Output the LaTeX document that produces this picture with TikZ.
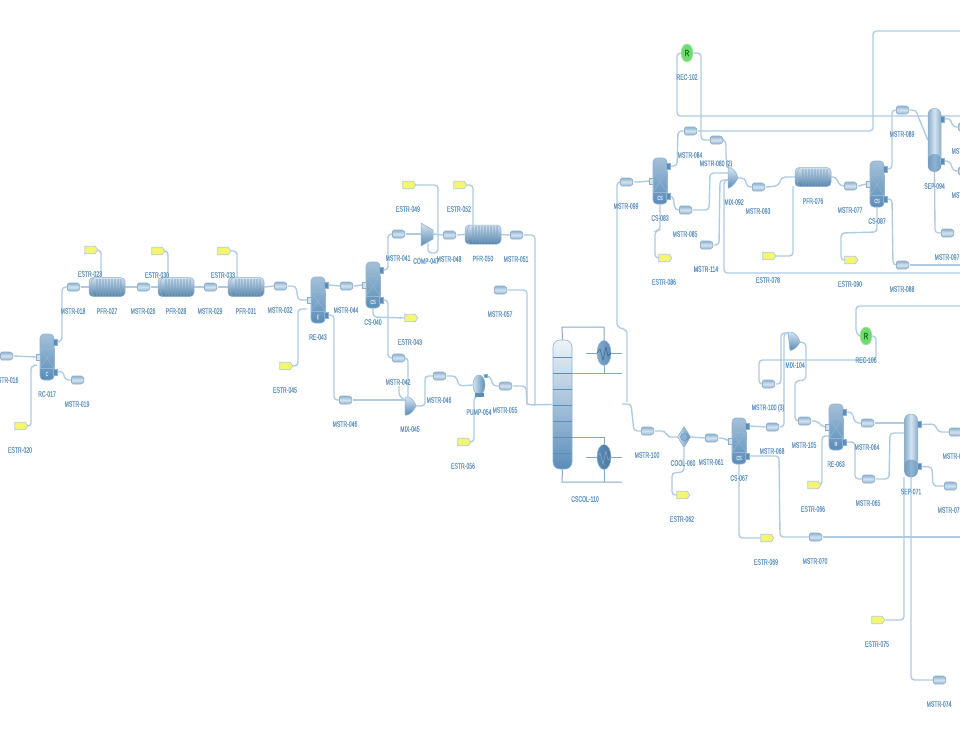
\documentclass[tikz,border=0pt]{standalone}
\usepackage{fontspec}
\setmainfont[FakeStretch=0.64,FakeBold=0.12]{Liberation Sans}
\usetikzlibrary{shapes.geometric,shapes.symbols}
\definecolor{pipec}{HTML}{AFCBE2}
\definecolor{lblc}{HTML}{6396C2}
\definecolor{vdark}{HTML}{5A8DB9}
\definecolor{vlight}{HTML}{D5E3EF}
\definecolor{vedge}{HTML}{8FB2CF}
\definecolor{recg}{HTML}{70DA70}
\definecolor{yell}{HTML}{F5F66E}
\pgfdeclarelayer{pipes}
\pgfdeclarelayer{paper}
\pgfsetlayers{paper,pipes,main}
\tikzset{
  pipe/.style={draw=pipec,line width=1.35pt,rounded corners=3.5pt},
  lbl/.style={text=lblc,font=\fontsize{8}{8}\selectfont,inner sep=0pt},
  micon/.style={signal,signal to=east,signal pointer angle=130,draw=vedge,line width=.7pt,top color=vedge,bottom color=vedge,middle color=vlight,minimum width=13pt,minimum height=8pt,inner sep=0pt,rounded corners=1.5pt},
  eicon/.style={signal,signal to=east,signal pointer angle=110,draw=pipec,line width=.7pt,fill=yell,minimum width=13pt,minimum height=7.5pt,inner sep=0pt},
  vessel/.style={draw=vedge,line width=.6pt,rounded corners=4pt,top color=vedge!70!vlight,bottom color=vdark,inner sep=0pt},
  portbox/.style={draw=vedge,line width=.4pt,fill=vdark,minimum width=4pt,minimum height=6pt,inner sep=0pt},
  inbox/.style={draw=vdark!70!white,line width=.4pt,fill=vlight,minimum width=4pt,minimum height=6pt,inner sep=0pt},
  pfrbody/.style={draw=vedge,line width=.5pt,rounded corners=4pt,top color=vlight,bottom color=vdark!90!black,inner sep=0pt},
  eqband/.style={draw=vdark!65!white,line width=.5pt},
  tray/.style={draw=vdark,line width=1pt},
  hx/.style={ellipse,draw=vedge,line width=.5pt,left color=vdark!75!white,right color=vdark,minimum width=14pt,minimum height=25pt,inner sep=0pt},
  hxline/.style={draw=vdark!75!white,line width=1pt},
  recy/.style={ellipse,fill=recg,draw=recg!60!white,line width=.6pt,minimum width=12pt,minimum height=18pt,inner sep=0pt,text=green!40!black,font=\fontsize{9}{9}\selectfont},
  eqshape/.style={draw=vedge,line width=.5pt,top color=vlight,bottom color=vdark}
}
\newcommand\mstream[4]{\node[micon] (#1) at (#2,#3) {};\node[lbl] (#1t) at (#2,#3+24) {#4};}
\newcommand\estream[4]{\node[eicon] (#1) at (#2,#3) {};\node[lbl] (#1t) at (#2,#3+24) {#4};}
\newcommand\reactorunit[5]{%
  \node[vessel,minimum width=14pt,minimum height=46pt] (#1) at (#2,#3) {};
  \draw[eqband] ({#2-7},{#3-9}) rectangle ({#2+7},{#3+11});
  \draw[eqband] ({#2-7},{#3-9}) -- ({#2+7},{#3+11}) ({#2-7},{#3+11}) -- ({#2+7},{#3-9});
  \node[text=vlight,font=\fontsize{6}{6}\selectfont,inner sep=0pt] (#1c) at (#2,{#3+17}) {#4};
  \node[inbox] (#1i) at ({#2-8.5},#3) {};
  \node[portbox] (#1a) at ({#2+8.5},{#3-15}) {};
  \node[portbox] (#1b) at ({#2+8.5},{#3+15}) {};
  \node[lbl] (#1t) at (#2,{#3+37}) {#5};
}
\newcommand\pfrunit[5]{%
  \node[pfrbody,minimum width={2*#5*1pt},minimum height=19pt] (#1) at (#2,#3) {};
  \foreach \qk in {-11,-9.5,...,15} {\draw[vdark!80!white,line width=.35pt,opacity=.45] ({#2+\qk},{#3-8.5}) -- ({#2+\qk},{#3+8.5});}
  \draw[vedge,line width=.5pt] ({#2-13},{#3-9}) arc[start angle=90,end angle=270,x radius=3,y radius=-9];
  \node[lbl] (#1t) at (#2,{#3+24}) {#4};
}
\newcommand\sepunit[4]{%
  \node[draw=vedge,line width=.5pt,rounded corners=6pt,left color=vdark!70!white,right color=vdark!70!white,middle color=vlight,minimum width=13pt,minimum height=63pt,inner sep=0pt] (#1) at (#2,#3) {};
  \fill[vdark,opacity=.55,rounded corners=6pt] ({#2-6.5},{#3+14}) rectangle ({#2+6.5},{#3+31.5});
  \node[portbox] (#1a) at ({#2+8},{#3-21}) {};
  \node[portbox] (#1b) at ({#2+8},{#3+21}) {};
  \node[lbl] (#1t) at (#2,{#3+46}) {#4};
}
\begin{document}
\begin{tikzpicture}[x=1pt,y=-1pt]
\useasboundingbox (0,0) rectangle (960,750);
\begin{pgfonlayer}{paper}
\fill[white] (0,0) rectangle (960,750);
\end{pgfonlayer}
\clip (0,0) rectangle (960,750);
\mstream{m016}{6}{356}{MSTR-016}
\reactorunit{rc}{47}{357}{C}{RC-017}
\mstream{m019}{77}{380}{MSTR-019}
\estream{e020}{20}{426}{ESTR-020}
\mstream{m018}{73}{287}{MSTR-018}
\pfrunit{pfa}{107}{287}{PFR-027}{18}
\estream{e023}{90}{250}{ESTR-023}
\mstream{m026}{143}{287}{MSTR-026}
\pfrunit{pfb}{176}{287}{PFR-028}{18}
\estream{e030}{157}{251}{ESTR-030}
\mstream{m029}{210}{287}{MSTR-029}
\pfrunit{pfc}{246}{287}{PFR-031}{18}
\estream{e033}{223}{251}{ESTR-033}
\mstream{m032}{280}{286}{MSTR-032}
\reactorunit{re}{318}{300}{E}{RE-043}
\estream{e045}{285}{366}{ESTR-045}
\mstream{m044}{346}{286}{MSTR-044}
\reactorunit{csa}{373}{285}{CS}{CS-040}
\estream{e043}{410}{318}{ESTR-043}
\mstream{m041}{398}{234}{MSTR-041}
\draw[eqshape] (421,223) -- (433,230) -- (433,239) -- (421,246) -- cycle;
\coordinate (compin) at (421,234);
\coordinate (compout) at (433,234);
\coordinate (compbot) at (428,243);
\node[lbl] (compt) at (426,261) {COMP-047};
\mstream{m048}{449}{235}{MSTR-048}
\estream{e049}{408}{185}{ESTR-049}
\estream{e052}{459}{185}{ESTR-052}
\pfrunit{pfd}{483}{234.5}{PFR-050}{18}
\mstream{m051}{516}{235}{MSTR-051}
\mstream{m057}{500}{290}{MSTR-057}
\mstream{m042}{398}{358}{MSTR-042}
\draw[eqshape] (405,397) -- (409,397) .. controls (413,399) and (415,403) .. (416,406) .. controls (414,410) and (411,414) .. (407,415) -- (405,415) -- cycle;
\coordinate (mixain) at (405,400);
\coordinate (mixatop) at (408,397);
\coordinate (mixaout) at (416,406);
\node[lbl] (mixat) at (410,429) {MIX-045};
\mstream{m046a}{345}{400}{MSTR-046}
\mstream{m046b}{439}{376}{MSTR-046}
\node[ellipse,draw=vedge,line width=.5pt,left color=vlight,right color=vdark,minimum width=12pt,minimum height=20pt,inner sep=0pt] (pump) at (479,385) {};
\fill[vdark] (475,393) rectangle (484,397);
\node[portbox,minimum width=3pt,minimum height=3pt] (pumpo) at (486,376) {};
\node[lbl] (pumpt) at (479,412) {PUMP-054};
\mstream{m055}{505}{386}{MSTR-055}
\estream{e056}{463}{442}{ESTR-056}
\node[draw=vedge,line width=.6pt,rounded corners=7pt,top color=vlight!40!white,bottom color=vdark,minimum width=19pt,minimum height=129pt,inner sep=0pt] (col) at (562.5,404.5) {};
\foreach \qy in {357,373,389,405,421,437,453} {\draw[tray] (553,\qy) -- (572,\qy);}
\node[lbl] (colt) at (585,499) {CSCOL-110};
\node[hx] (cond) at (604,353) {};
\draw[vdark!60!black,line width=.4pt] (597,353) -- (600,349) -- (603,360) -- (606,347) -- (608,356) -- (611,353);
\node[hx,left color=vdark,right color=vdark!85!black] (reboil) at (604,457) {};
\draw[vedge,line width=.4pt] (597,457) -- (600,453) -- (603,464) -- (606,451) -- (608,460) -- (611,457);
\coordinate (tl1) at (622,373);
\coordinate (c1) at (586,353);
\coordinate (c2) at (622,353);
\coordinate (r1) at (586,457);
\coordinate (r2) at (622,457);
\coordinate (r3) at (622,482);
\mstream{m099}{626}{182}{MSTR-099}
\reactorunit{csb}{660}{181}{CS}{CS-083}
\mstream{m084}{690}{131}{MSTR-084}
\mstream{m085}{685}{210}{MSTR-085}
\estream{e086}{664}{258}{ESTR-086}
\node[recy] (recb) at (687,53) {R};
\node[lbl] (recbt) at (687,77) {REC-102};
\mstream{m080}{716}{140}{MSTR-080 (2)}
\draw[eqshape] (728,168) -- (731,168) .. controls (735,170) and (737,174) .. (738,178) .. controls (736,182) and (733,186) .. (729,188) -- (728,188) -- cycle;
\coordinate (mixbt) at (729,168);
\coordinate (mixbi) at (728,173);
\coordinate (mixbj) at (728,180);
\coordinate (mixbo) at (738,178);
\node[lbl] (mixbl) at (734,202) {MIX-092};
\mstream{m093}{758}{187}{MSTR-093}
\mstream{m114}{706}{245}{MSTR-114}
\pfrunit{pfe}{813}{177}{PFR-076}{18}
\mstream{m077}{850}{186}{MSTR-077}
\estream{e078}{768}{256}{ESTR-078}
\reactorunit{csc}{877}{184}{CS}{CS-087}
\estream{e090}{850}{260}{ESTR-090}
\mstream{m088}{902}{265}{MSTR-088}
\mstream{m089}{902}{110}{MSTR-089}
\sepunit{sepa}{934.5}{140}{SEP-094}
\mstream{m097}{947}{233}{MSTR-097}
\mstream{m095}{964}{127}{MSTR-095}
\mstream{m096}{964}{171}{MSTR-096}
\coordinate (redge1) at (960,31);
\coordinate (redge2) at (960,116);
\coordinate (redge3) at (960,273);
\mstream{m100}{647}{431}{MSTR-100}
\node[diamond,draw=vedge,line width=.5pt,left color=vlight,right color=vdark,minimum width=13pt,minimum height=21pt,inner sep=0pt,aspect=.6] (cool) at (684,437) {};
\node[circle,draw=vdark,line width=.4pt,fill=vedge,minimum size=7pt,inner sep=0pt] (coolc) at (684,437) {};
\node[lbl] (coolt) at (683,463) {COOL-060};
\mstream{m061}{711}{438}{MSTR-061}
\estream{e062}{682}{495}{ESTR-062}
\reactorunit{csd}{739}{441}{CS}{CS-067}
\mstream{m068}{772}{427}{MSTR-068}
\mstream{m1003}{768}{384}{MSTR-100 (3)}
\estream{e069}{766}{538}{ESTR-069}
\mstream{m070}{815}{537}{MSTR-070}
\draw[eqshape] (788,332) -- (792,332) .. controls (796,334) and (799,338) .. (800,342) .. controls (798,346) and (795,349) .. (792,350) -- (790,350) .. controls (789,345) and (789,338) .. (788,332) -- cycle;
\coordinate (mixci) at (788,333);
\coordinate (mixco) at (800,342);
\node[lbl] (mixct) at (795,365) {MIX-104};
\node[recy] (recc) at (866,336) {R};
\node[lbl] (recct) at (866,360) {REC-106};
\mstream{m105}{804}{421}{MSTR-105}
\reactorunit{red}{836}{427}{R}{RE-063}
\estream{e066}{813}{485}{ESTR-066}
\mstream{m064}{867}{423}{MSTR-064}
\mstream{m065}{868}{479}{MSTR-065}
\sepunit{sepb}{911}{445.5}{SEP-071}
\mstream{m072}{955}{432}{MSTR-072}
\mstream{m073}{950}{486}{MSTR-073}
\estream{e075}{877}{620}{ESTR-075}
\mstream{m074}{939}{680}{MSTR-074}
\coordinate (redge4) at (960,306);
\coordinate (redge5) at (960,537);
\coordinate (redge6) at (960,265);
\begin{pgfonlayer}{pipes}
\draw[pipe] (m016.east) -- (rci.west);
\draw[pipe] (e020.east) -- (31,427) -- (31,366) -- (37,365);
\draw[pipe] (rca.east) -- (62,341) -- (62,287) -- (m018.west);
\draw[pipe] (rcb.east) -- (63,371) -- (65,380) -- (m019.west);
\draw[pipe] (m018.east) -- (pfa.west);
\draw[pipe] (e023.east) -- (101,250) -- (101,277);
\draw[pipe] (pfa.east) -- (m026.west);
\draw[pipe] (m026.east) -- (pfb.west);
\draw[pipe] (e030.east) -- (168,251) -- (168,277);
\draw[pipe] (pfb.east) -- (m029.west);
\draw[pipe] (m029.east) -- (pfc.west);
\draw[pipe] (e033.east) -- (237,251) -- (237,278);
\draw[pipe] (pfc.east) -- (m032.west);
\draw[pipe] (m032.east) -- (296,286) -- (298,300) -- (rei.west);
\draw[pipe] (e045.east) -- (298,366) -- (298,309) -- (307,309);
\draw[pipe] (rea.east) -- (m044.west);
\draw[pipe] (reb.east) -- (334,315) -- (334,400) -- (m046a.west);
\draw[pipe] (m044.east) -- (csai.west);
\draw[pipe] (m046a.east) -- (mixain);
\draw[pipe] (csaa.east) -- (388,270) -- (388,234) -- (m041.west);
\draw[pipe] (csab.east) -- (388,300) -- (388,358) -- (m042.west);
\draw[pipe] (csa.south) -- (373,317) -- (e043.west);
\draw[pipe] (m041.east) -- (compin);
\draw[pipe] (m042.east) -- (408,358) -- (mixatop);
\draw[pipe] (m042t.south) ++(1,1) -- ++(0,10) -- (mixain);
\draw[pipe] (compout) -- (m048.west);
\draw[pipe] (m048.east) -- (pfd.west);
\draw[pipe] (e049.east) -- (438,185) -- (438,253) -- (428,253) -- (compbot);
\draw[pipe] (e052.east) -- (473,185) -- (473,225);
\draw[pipe] (pfd.east) -- (m051.west);
\draw[pipe] (m051.east) -- (535,235) -- (535,405);
\draw[pipe] (m057.east) -- (527,290) -- (527,405);
\draw[pipe] (mixaout) -- (425,406) -- (425,376) -- (m046b.west);
\draw[pipe] (m046b.east) -- (456,376) -- (459,386) -- (pump.west);
\draw[pipe] (pumpo.east) -- (490,376) -- (493,386) -- (m055.west);
\draw[pipe] (m055.east) -- (526,386) -- (527,405) -- (col.west);
\draw[pipe] (pump.south) -- (474,397) -- (474,442) -- (e056.east);
\draw[hxline] (col.north) -- (562,327) -- (604,327) -- (cond.north);
\draw[hxline] (cond.south) -- (604,373) (572,373) -- (tl1);
\draw[hxline] (c1) -- (cond.west) (cond.east) -- (c2);
\draw[hxline] (572,437) -- (604,437) -- (reboil.north);
\draw[hxline] (reboil.south) -- (604,482);
\draw[hxline] (col.south) -- (562,482) -- (r3);
\draw[hxline] (r1) -- (reboil.west) (reboil.east) -- (r2);
\draw[pipe] (m099.west) -- (617,182) -- (617,327) -- (627,330) -- (627,402);
\draw[pipe] (622,404) -- (631,404) -- (634,431) -- (m100.west);
\draw[pipe] (m100.east) -- (665,431) -- (668,437) -- (cool.west);
\draw[pipe] (cool.east) -- (m061.west);
\draw[pipe] (cool.south) -- (684,472) -- (672,473) -- (672,495) -- (e062.west);
\draw[pipe] (m061.east) -- (724,438) -- (728,441) -- (csdi.west);
\draw[pipe] (m099.east) -- (640,182) -- (csbi.west);
\draw[pipe] (csba.east) -- (677,166) -- (678,131) -- (m084.west);
\draw[pipe] (csbb.east) -- (673,196) -- (675,210) -- (m085.west);
\draw[pipe] (csb.south) -- (660,230) -- (655,231) -- (655,258) -- (e086.west);
\draw[pipe] (m084.east) -- (873,131) -- (873,31) -- (redge1);
\draw[pipe] (recb.west) -- (677,53) -- (677,116) -- (redge2);
\draw[pipe] (recb.east) -- (701,53) -- (701,140) -- (m080.west);
\draw[pipe] (m080.east) -- (726,141) -- (726,160) -- (mixbt);
\draw[pipe] (m085.east) -- (709,210) -- (710,173) -- (mixbi);
\draw[pipe] (m114.east) -- (719,245) -- (720,180) -- (mixbj);
\draw[pipe] (mixbj) -- (724,180) -- (724,273) -- (redge3);
\draw[pipe] (mixbo) -- (745,178) -- (747,187) -- (m093.west);
\draw[pipe] (m093.east) -- (778,186) -- (782,177) -- (pfe.west);
\draw[pipe] (pfe.east) -- (836,177) -- (840,186) -- (m077.west);
\draw[pipe] (m077.east) -- (csci.west);
\draw[pipe] (e078.east) -- (793,256) -- (793,186);
\draw[pipe] (csca.east) -- (892,169) -- (892,110) -- (m089.west);
\draw[pipe] (m089.east) -- (916,110) -- (918,116) -- (sepa.west);
\draw[pipe] (cscb.east) -- (892,199) -- (893,265) -- (m088.west);
\draw[pipe] (m088.east) -- (redge6);
\draw[pipe] (csc.south) -- (877,232) -- (841,233) -- (841,260) -- (e090.west);
\draw[pipe] (sepa.south) -- (935,233) -- (m097.west);
\draw[pipe] (sepaa.east) -- (950,118) -- (953,127) -- (m095.west);
\draw[pipe] (sepab.east) -- (950,161) -- (953,171) -- (m096.west);
\draw[pipe] (csda.east) -- (m068.west);
\draw[pipe] (m068.east) -- (784,427) -- (784,333) -- (mixci);
\draw[pipe] (m1003.east) -- (781,384) -- (781,333) -- (mixci);
\draw[pipe] (m1003.west) -- (759,384) -- (759,360) -- (876,360) -- (876,336) -- (recc.east);
\draw[pipe] (recc.west) -- (856,333) -- (856,306) -- (redge4);
\draw[pipe] (mixco) -- (806,343) -- (806,380) -- (795,381) -- (795,421) -- (m105.west);
\draw[pipe] (m105.east) -- (818,421) -- (822,427) -- (redi.west);
\draw[pipe] (e066.east) -- (822,485) -- (822,436) -- (829,436);
\draw[pipe] (reda.east) -- (852,412) -- (855,423) -- (m064.west);
\draw[pipe] (redb.east) -- (855,442) -- (855,479) -- (m065.west);
\draw[pipe] (m064.east) -- (905,423);
\draw[pipe] (m065.east) -- (889,479) -- (890,433) -- (905,433);
\draw[pipe] (sepba.east) -- (935,424) -- (938,432) -- (m072.west);
\draw[pipe] (sepbb.east) -- (932,467) -- (933,486) -- (m073.west);
\draw[pipe] (csd.south) -- (739,538) -- (e069.west);
\draw[pipe] (csdb.east) -- (779,456) -- (780,537) -- (m070.west);
\draw[pipe] (m070.east) -- (redge5);
\draw[pipe] (e075.east) -- (904,620) -- (904,477);
\draw[pipe] (sepb.south) -- (911,680) -- (m074.west);
\end{pgfonlayer}
\end{tikzpicture}
\end{document}
